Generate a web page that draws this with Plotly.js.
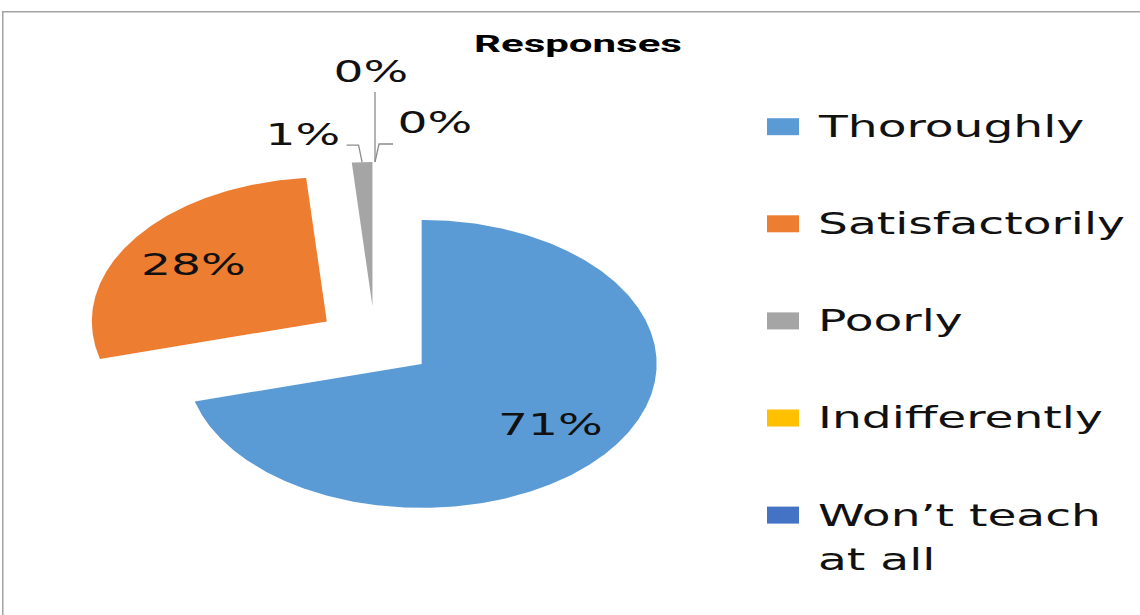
<!DOCTYPE html>
<html>
<head>
<meta charset="utf-8">
<script src="https://cdn.plot.ly/plotly-3.0.1.min.js"></script>
<style>
  html, body { margin: 0; padding: 0; background: #ffffff; }
  #chart { width: 1140px; height: 615px; }
</style>
</head>
<body>
<div id="chart"></div>
<script>
// ------------------------------------------------------------------ data
const chartTitle  = 'Responses';
const categories  = ['Thoroughly', 'Satisfactorily', 'Poorly', 'Indifferently', 'Won’t teach at all'];
const shares      = [70.8, 27.8, 1.4, 0, 0];          // percent of responses
const sliceColors = ['#5B9BD5', '#ED7D31', '#A5A5A5', '#FFC000', '#4472C4'];

// ------------------------------------------------------------------ layout / style (pixels)
const W = 1140, H = 615;
const CX = 375, CY = 342;          // pie centre
const RX = 235, RY = 144;          // horizontal / vertical radius (chart is stretched)
const PULL = 0.25;                 // explosion, fraction of radius
const LABEL_R = 0.69;              // inside-label radius
const INSIDE_MIN_SHARE = 5;        // below this the label goes outside
const TEXT_STRETCH = 1.57;         // horizontal stretch of label / legend glyphs
const TITLE_STRETCH = 1.75;
const FONT = 'DejaVu Sans';
const FONT_SIZE = 30;
const TEXT_COLOR = '#111111';
const LEADER_COLOR = '#8C8C8C';
// outside label placement, offsets in px from the slice's outer mid point
const outsideStyle = {
  2: { path: [[-3.5, -17], [-15.5, -17]], text: [-59.5, -28] },
  3: { path: [[0, -35], [0, -70]],        text: [-4, -91] },
  4: { path: [[4, -18], [18, -18]],       text: [60, -39.5] }
};
// legend
const LEG_SW_X0 = 767, LEG_SW_W = 32, LEG_SW_H = 17;
const LEG_Y0 = 126.7, LEG_STEP = 97.1, LEG_TEXT_X = 816, LEG_LINE_GAP = 44, LEG_WRAP = 13;

// ------------------------------------------------------------------ helpers
const deg = Math.PI / 180;
const px2paperX = p => p / W;
const px2paperY = p => 1 - p / H;
function wrap(text, maxChars) {
  const words = text.split(' '); const lines = []; let cur = '';
  words.forEach(w => {
    if (cur && (cur + ' ' + w).length > maxChars) { lines.push(cur); cur = w; }
    else cur = cur ? cur + ' ' + w : w;
  });
  if (cur) lines.push(cur);
  return lines;
}

// ------------------------------------------------------------------ slices (unit-circle coords, axes do the scaling)
const total = shares.reduce((a, b) => a + b, 0);
const traces = [];
const annotations = [];
let start = 0;
shares.forEach((v, i) => {
  const sweep = v / total * 360;
  const a0 = start, a1 = start + sweep, mid = (a0 + a1) / 2;
  start = a1;
  const ox = PULL * Math.sin(mid * deg), oy = PULL * Math.cos(mid * deg);
  if (sweep > 0) {
    const xs = [ox], ys = [oy];
    const n = Math.max(2, Math.ceil(sweep / 0.5));
    for (let k = 0; k <= n; k++) {
      const t = (a0 + sweep * k / n) * deg;
      xs.push(ox + Math.sin(t)); ys.push(oy + Math.cos(t));
    }
    xs.push(ox); ys.push(oy);
    traces.push({
      type: 'scatter', mode: 'lines', x: xs, y: ys, fill: 'toself',
      fillcolor: sliceColors[i], line: { width: 0, color: sliceColors[i] },
      hoverinfo: 'skip', showlegend: false, name: categories[i]
    });
  }
  const label = Math.round(v / total * 100) + '%';
  if (v >= INSIDE_MIN_SHARE) {
    annotations.push({
      x: ox + LABEL_R * Math.sin(mid * deg), y: oy + LABEL_R * Math.cos(mid * deg),
      xref: 'x', yref: 'y', text: label, showarrow: false,
      xanchor: 'center', yanchor: 'middle', align: 'center',
      font: { family: FONT, size: FONT_SIZE, color: TEXT_COLOR }
    });
  } else {
    const st = outsideStyle[i];
    const px = ox + Math.sin(mid * deg), py = oy + Math.cos(mid * deg);
    const lx = [px], ly = [py];
    st.path.forEach(p => { lx.push(px + p[0] / RX); ly.push(py - p[1] / RY); });
    traces.push({
      type: 'scatter', mode: 'lines', x: lx, y: ly,
      line: { color: LEADER_COLOR, width: 1.3 }, hoverinfo: 'skip', showlegend: false
    });
    annotations.push({
      x: px + st.text[0] / RX, y: py - st.text[1] / RY,
      xref: 'x', yref: 'y', text: label, showarrow: false,
      xanchor: 'center', yanchor: 'middle', align: 'center',
      font: { family: FONT, size: FONT_SIZE, color: TEXT_COLOR }
    });
  }
});

// ------------------------------------------------------------------ legend (drawn as shapes + text)
const shapes = [];
categories.forEach((c, i) => {
  const cy = LEG_Y0 + i * LEG_STEP;
  shapes.push({
    type: 'rect', xref: 'paper', yref: 'paper',
    x0: px2paperX(LEG_SW_X0), x1: px2paperX(LEG_SW_X0 + LEG_SW_W),
    y0: px2paperY(cy + LEG_SW_H / 2), y1: px2paperY(cy - LEG_SW_H / 2),
    fillcolor: sliceColors[i], line: { width: 0 }
  });
  wrap(c, LEG_WRAP).forEach((ln, k) => {
    annotations.push({
      x: px2paperX(LEG_TEXT_X), y: px2paperY(cy + k * LEG_LINE_GAP),
      xref: 'paper', yref: 'paper', text: ln, showarrow: false,
      xanchor: 'left', yanchor: 'middle', align: 'left',
      font: { family: FONT, size: FONT_SIZE, color: TEXT_COLOR }
    });
  });
});
// chart-area border (only left and top edges are inside the picture)
shapes.push({
  type: 'rect', xref: 'paper', yref: 'paper', layer: 'below',
  x0: px2paperX(2.75), x1: 1.05, y0: -0.05, y1: px2paperY(11.75),
  line: { color: '#A3A3A3', width: 1.5 }, fillcolor: 'rgba(0,0,0,0)'
});

const layout = {
  width: W, height: H,
  margin: { l: 0, r: 0, t: 0, b: 0, pad: 0 },
  paper_bgcolor: '#ffffff', plot_bgcolor: '#ffffff',
  showlegend: false,
  title: {
    text: chartTitle, x: px2paperX(578), xanchor: 'center',
    y: px2paperY(44), yanchor: 'middle',
    font: { family: 'Roboto', size: 24, color: '#000000', weight: 'bold' }
  },
  xaxis: { range: [-CX / RX, (W - CX) / RX], visible: false, fixedrange: true },
  yaxis: { range: [-(H - CY) / RY, CY / RY], visible: false, fixedrange: true },
  shapes: shapes,
  annotations: annotations
};

const el = document.getElementById('chart');
function stretch(sel, factor) {
  el.querySelectorAll(sel).forEach(t => {
    const w = t.getComputedTextLength();
    t.setAttribute('textLength', (w * factor).toFixed(1));
    t.setAttribute('lengthAdjust', 'spacingAndGlyphs');
  });
}
Plotly.newPlot(el, traces, layout, { staticPlot: true, displayModeBar: false }).then(() => {
  // the reference glyphs are horizontally stretched: widen label, legend and title text
  stretch('text.annotation-text', TEXT_STRETCH);
  stretch('text.gtitle', TITLE_STRETCH);
});
</script>
</body>
</html>
